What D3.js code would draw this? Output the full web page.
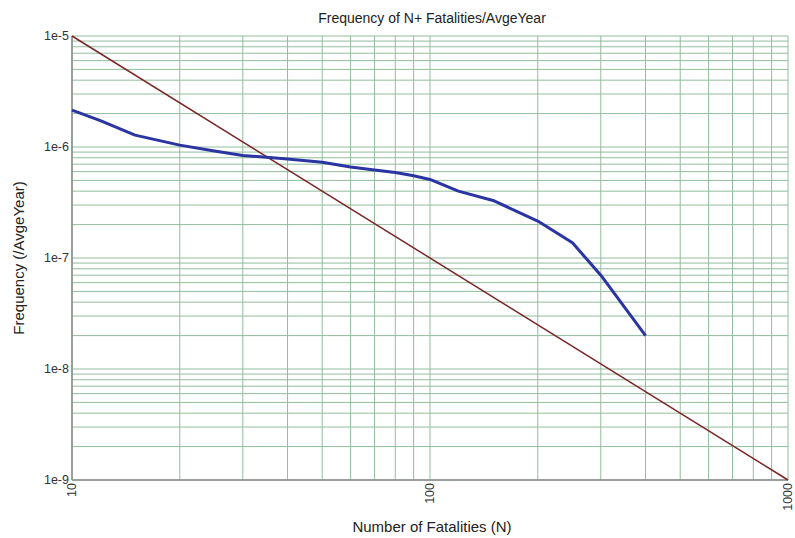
<!DOCTYPE html>
<html>
<head>
<meta charset="utf-8">
<script src="https://cdn.jsdelivr.net/npm/d3@7"></script>
<style>
  body { margin: 0; background: #fff; }
  text { font-family: "Liberation Sans", Arial, sans-serif; }
</style>
</head>
<body>
<div class="chart"></div>
<script>
// N+ fatalities (blue curve)
var nValues = [10, 12, 15, 20, 25, 30, 40, 50, 60, 70, 80, 90, 100, 120, 150, 200, 250, 300, 400];
var freqValues = [2.15e-6, 1.73e-6, 1.28e-6, 1.04e-6, 9.2e-7, 8.4e-7, 7.8e-7, 7.3e-7, 6.6e-7, 6.2e-7,
                  5.9e-7, 5.5e-7, 5.1e-7, 4.0e-7, 3.3e-7, 2.15e-7, 1.37e-7, 7.0e-8, 2.0e-8];

// criterion line (red)
var critN = [10, 1000];
var critFreq = [1e-5, 1e-9];

var xTicks = [10, 100, 1000];
var yTicks = [1e-9, 1e-8, 1e-7, 1e-6, 1e-5];

var width = 795;
var height = 538;
var margin = { left: 72, right: 7, top: 36, bottom: 58 };

var svg = d3.select(".chart").append("svg")
    .attr("width", width)
    .attr("height", height);

var x = d3.scaleLog()
    .domain([10, 1000])
    .range([margin.left, width - margin.right]);

var y = d3.scaleLog()
    .domain([1e-9, 1e-5])
    .range([height - margin.bottom, margin.top]);

// minor + major grid values
var xGrid = [];
[10, 100].forEach(function(d) {
    for (var i = 1; i <= 9; i++) xGrid.push(d * i);
});
xGrid.push(1000);

var yGrid = [];
[1e-9, 1e-8, 1e-7, 1e-6].forEach(function(d) {
    for (var i = 1; i <= 9; i++) yGrid.push(d * i);
});
yGrid.push(1e-5);

var gridColor = "#92bd9d";

svg.append("g").selectAll("line")
    .data(yGrid)
    .enter().append("line")
    .attr("x1", x(10))
    .attr("x2", x(1000))
    .attr("y1", function(d) { return y(d); })
    .attr("y2", function(d) { return y(d); })
    .attr("stroke", gridColor)
    .attr("stroke-width", 1);

svg.append("g").selectAll("line")
    .data(xGrid)
    .enter().append("line")
    .attr("x1", function(d) { return x(d); })
    .attr("x2", function(d) { return x(d); })
    .attr("y1", y(1e-5))
    .attr("y2", y(1e-9))
    .attr("stroke", gridColor)
    .attr("stroke-width", 1);

// axis frame lines
svg.append("line")
    .attr("x1", x(10)).attr("x2", x(10))
    .attr("y1", y(1e-5)).attr("y2", y(1e-9))
    .attr("stroke", "#8a8a8a").attr("stroke-width", 1.5);
svg.append("line")
    .attr("x1", x(10)).attr("x2", x(1000))
    .attr("y1", y(1e-9)).attr("y2", y(1e-9))
    .attr("stroke", "#8a8a8a").attr("stroke-width", 1.5);

// y tick labels
svg.append("g").selectAll("text")
    .data(yTicks)
    .enter().append("text")
    .attr("x", x(10) - 3)
    .attr("y", function(d) { return y(d); })
    .attr("dy", "0.35em")
    .attr("text-anchor", "end")
    .attr("font-size", 12.5)
    .attr("fill", "#333")
    .text(function(d) { return "1e" + Math.round(Math.log10(d)); });

// x tick labels, rotated
svg.append("g").selectAll("text")
    .data(xTicks)
    .enter().append("text")
    .attr("transform", function(d) {
        return "translate(" + x(d) + "," + (y(1e-9) + 3) + ") rotate(-90)";
    })
    .attr("dy", "0.35em")
    .attr("text-anchor", "end")
    .attr("font-size", 12.5)
    .attr("fill", "#333")
    .text(function(d) { return d; });

var line = d3.line()
    .x(function(d) { return x(d[0]); })
    .y(function(d) { return y(d[1]); });

svg.append("path")
    .datum(d3.zip(critN, critFreq))
    .attr("d", line)
    .attr("fill", "none")
    .attr("stroke", "#7b2626")
    .attr("stroke-width", 1.5);

svg.append("path")
    .datum(d3.zip(nValues, freqValues))
    .attr("d", line)
    .attr("fill", "none")
    .attr("stroke", "#2a34a2")
    .attr("stroke-width", 3)
    .attr("stroke-linejoin", "round");

// titles
svg.append("text")
    .attr("x", 432)
    .attr("y", 23)
    .attr("text-anchor", "middle")
    .attr("font-size", 14)
    .attr("fill", "#222")
    .text("Frequency of N+ Fatalities/AvgeYear");

svg.append("text")
    .attr("x", 432)
    .attr("y", 532)
    .attr("text-anchor", "middle")
    .attr("font-size", 15)
    .attr("fill", "#222")
    .text("Number of Fatalities (N)");

svg.append("text")
    .attr("transform", "translate(24," + y(1e-7) + ") rotate(-90)")
    .attr("text-anchor", "middle")
    .attr("font-size", 15)
    .attr("fill", "#222")
    .text("Frequency (/AvgeYear)");
</script>
</body>
</html>
